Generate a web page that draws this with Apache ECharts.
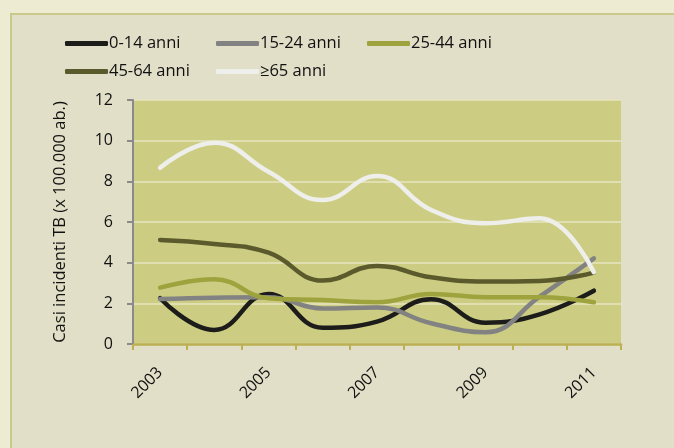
<!DOCTYPE html>
<html>
<head>
<meta charset="utf-8">
<script src="https://cdn.jsdelivr.net/npm/echarts@6/dist/echarts.min.js"></script>
<style>
  html, body { margin: 0; padding: 0; background: #edecd3; }
  #main { width: 674px; height: 448px; }
</style>
</head>
<body>
<div id="main"></div>
<script>
const years = ["2003", "2004", "2005", "2006", "2007", "2008", "2009", "2010", "2011"];
const eta0_14 = [2.25, 0.69, 2.46, 0.8, 1.1, 2.2, 1.05, 1.46, 2.62];
const eta15_24 = [2.21, 2.28, 2.3, 1.75, 1.8, 1.02, 0.58, 2.33, 4.21];
const eta25_44 = [2.77, 3.18, 2.25, 2.16, 2.05, 2.46, 2.3, 2.3, 2.05];
const eta45_64 = [5.12, 4.92, 4.49, 3.12, 3.84, 3.28, 3.07, 3.1, 3.51];
const eta65 = [8.67, 9.9, 8.47, 7.08, 8.26, 6.59, 5.94, 6.18, 3.53];

const font = "'Open Sans', sans-serif";

function serie(name, data, color) {
  return {
    name: name,
    type: "line",
    data: data,
    smooth: 0.45,
    showSymbol: false,
    lineStyle: { color: color, width: 4.5, cap: "round" },
    itemStyle: { color: color },
  };
}

let chart = echarts.init(document.getElementById("main"));
let option = {
  backgroundColor: "#edecd3",
  animation: false,
  graphic: [
    {
      type: "rect",
      z: -10,
      shape: { x: 11, y: 14, width: 700, height: 500 },
      style: { fill: "#e2dfc8", stroke: "#c9c98c", lineWidth: 2 },
    },
  ],
  legend: {
    left: 60,
    top: 28,
    width: 470,
    itemWidth: 43,
    itemHeight: 5,
    itemGap: 7,
    icon: "roundRect",
    textStyle: {
      fontFamily: font,
      fontSize: 16.5,
      color: "#111",
      width: 100,
      lineHeight: 21,
      padding: [0, 0, 0, -4],
    },
    data: ["0-14 anni", "15-24 anni", "25-44 anni", "45-64 anni", "≥65 anni"],
  },
  grid: {
    left: 133,
    right: 53,
    top: 100,
    bottom: 104,
    show: true,
    backgroundColor: "#cccd82",
    borderWidth: 0,
  },
  xAxis: {
    type: "category",
    data: years,
    boundaryGap: true,
    axisLine: { lineStyle: { color: "#bcb050", width: 2.5 } },
    axisTick: { show: true, interval: 0, length: 6, lineStyle: { color: "#bcb050", width: 2 } },
    axisLabel: {
      interval: 1,
      rotate: 45,
      margin: 26,
      fontFamily: font,
      fontSize: 16,
      color: "#111",
    },
  },
  yAxis: {
    type: "value",
    min: 0,
    max: 12,
    interval: 2,
    name: "Casi incidenti TB (x 100.000 ab.)",
    nameLocation: "middle",
    nameGap: 64,
    nameTextStyle: { fontFamily: font, fontSize: 16.5, color: "#111" },
    axisLine: { show: true, lineStyle: { color: "#8a8a8a", width: 2 } },
    axisTick: { show: true, length: 6, lineStyle: { color: "#8a8a8a", width: 2 } },
    axisLabel: { fontFamily: font, fontSize: 16, color: "#111", margin: 20 },
    splitLine: { lineStyle: { color: "#e6e4c0", width: 1.5 } },
  },
  series: [
    serie("0-14 anni", eta0_14, "#1c1c1a"),
    serie("15-24 anni", eta15_24, "#828282"),
    serie("25-44 anni", eta25_44, "#9ea33e"),
    serie("45-64 anni", eta45_64, "#5b5a2c"),
    serie("≥65 anni", eta65, "#eeeeea"),
  ],
};
chart.setOption(option);
</script>
</body>
</html>
